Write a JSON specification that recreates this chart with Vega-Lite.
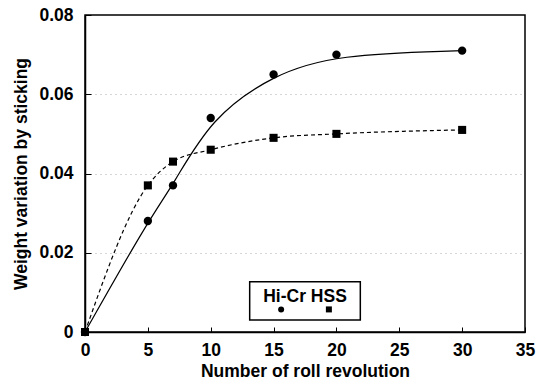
{
  "$schema": "https://vega.github.io/schema/vega-lite/v6.json",
  "width": 440,
  "height": 317,
  "autosize": "none",
  "padding": {"left": 85, "top": 15, "right": 20, "bottom": 51},
  "background": "white",
  "config": {
    "font": "Liberation Sans",
    "view": {"stroke": "black", "strokeWidth": 1.5}
  },
  "datasets": {
    "sticking": [
      {"series": "circle", "rev": 0, "w": 0.0},
      {"series": "circle", "rev": 5, "w": 0.028},
      {"series": "circle", "rev": 7, "w": 0.037},
      {"series": "circle", "rev": 10, "w": 0.054},
      {"series": "circle", "rev": 15, "w": 0.065},
      {"series": "circle", "rev": 20, "w": 0.070},
      {"series": "circle", "rev": 30, "w": 0.071},
      {"series": "square", "rev": 0, "w": 0.0},
      {"series": "square", "rev": 5, "w": 0.037},
      {"series": "square", "rev": 7, "w": 0.043},
      {"series": "square", "rev": 10, "w": 0.046},
      {"series": "square", "rev": 15, "w": 0.049},
      {"series": "square", "rev": 20, "w": 0.050},
      {"series": "square", "rev": 30, "w": 0.051}
    ],
    "single": [{}]
  },
  "layer": [
    {
      "data": {"name": "sticking"},
      "transform": [{"filter": "datum.series === 'circle'"}],
      "mark": {"type": "line", "interpolate": "basis", "color": "black", "strokeWidth": 1.2},
      "encoding": {
        "x": {
          "field": "rev", "type": "quantitative",
          "scale": {"domain": [0, 35], "nice": false},
          "axis": {
            "title": "Number of roll revolution",
            "titleFontSize": 17.5, "titleFontWeight": "bold", "titleColor": "black", "titlePadding": 4,
            "values": [0, 5, 10, 15, 20, 25, 30, 35],
            "labelFontSize": 17.5, "labelFontWeight": "bold", "labelColor": "black",
            "labelPadding": 14,
            "tickSize": -5, "tickColor": "black", "domainColor": "black", "domainWidth": 1.5,
            "grid": false, "labelFlush": false
          }
        },
        "y": {
          "field": "w", "type": "quantitative",
          "scale": {"domain": [0, 0.08], "nice": false},
          "axis": {
            "title": "Weight variation by sticking",
            "titleFontSize": 17.5, "titleFontWeight": "bold", "titleColor": "black", "titlePadding": 8,
            "values": [0, 0.01, 0.02, 0.03, 0.04, 0.05, 0.06, 0.07, 0.08],
            "labelExpr": "datum.value == 0 ? '0' : (round(datum.value * 100) % 2 == 0 ? format(datum.value, '.2f') : '')",
            "labelFontSize": 17.5, "labelFontWeight": "bold", "labelColor": "black",
            "labelPadding": 18,
            "tickSize": {"condition": {"test": "round(datum.value * 100) % 2 == 0", "value": -6}, "value": -3},
            "tickColor": "black", "domainColor": "black", "domainWidth": 1.5,
            "grid": true,
            "gridColor": "#999999",
            "gridDash": [1, 4],
            "gridOpacity": {"condition": {"test": "datum.value > 0 && datum.value < 0.08 && round(datum.value * 100) % 2 == 0", "value": 0.8}, "value": 0},
            "labelFlush": false
          }
        }
      }
    },
    {
      "data": {"name": "sticking"},
      "transform": [{"filter": "datum.series === 'square'"}],
      "mark": {"type": "line", "interpolate": "monotone", "color": "black", "strokeWidth": 1.2, "strokeDash": [4, 3]},
      "encoding": {
        "x": {"field": "rev", "type": "quantitative"},
        "y": {"field": "w", "type": "quantitative"}
      }
    },
    {
      "data": {"name": "sticking"},
      "transform": [{"filter": "datum.series === 'circle'"}],
      "mark": {"type": "point", "shape": "circle", "filled": true, "color": "black", "opacity": 1, "size": 70},
      "encoding": {
        "x": {"field": "rev", "type": "quantitative"},
        "y": {"field": "w", "type": "quantitative"}
      }
    },
    {
      "data": {"name": "sticking"},
      "transform": [{"filter": "datum.series === 'square'"}],
      "mark": {"type": "point", "shape": "square", "filled": true, "color": "black", "opacity": 1, "size": 65},
      "encoding": {
        "x": {"field": "rev", "type": "quantitative"},
        "y": {"field": "w", "type": "quantitative"}
      }
    },
    {
      "data": {"name": "single"},
      "mark": {"type": "rect", "fill": "white", "stroke": "black", "strokeWidth": 1.5},
      "encoding": {
        "x": {"datum": 13.1, "type": "quantitative"},
        "x2": {"datum": 21.9},
        "y": {"datum": 0.0127, "type": "quantitative"},
        "y2": {"datum": 0.0030}
      }
    },
    {
      "data": {"name": "single"},
      "mark": {"type": "text", "text": "Hi-Cr HSS", "fontSize": 17.5, "fontWeight": "bold", "color": "black", "align": "center", "baseline": "middle"},
      "encoding": {
        "x": {"datum": 17.5, "type": "quantitative"},
        "y": {"datum": 0.0088, "type": "quantitative"}
      }
    },
    {
      "data": {"name": "single"},
      "mark": {"type": "point", "shape": "circle", "filled": true, "color": "black", "opacity": 1, "size": 36},
      "encoding": {
        "x": {"datum": 15.6, "type": "quantitative"},
        "y": {"datum": 0.0057, "type": "quantitative"}
      }
    },
    {
      "data": {"name": "single"},
      "mark": {"type": "point", "shape": "square", "filled": true, "color": "black", "opacity": 1, "size": 36},
      "encoding": {
        "x": {"datum": 19.4, "type": "quantitative"},
        "y": {"datum": 0.0057, "type": "quantitative"}
      }
    }
  ]
}
